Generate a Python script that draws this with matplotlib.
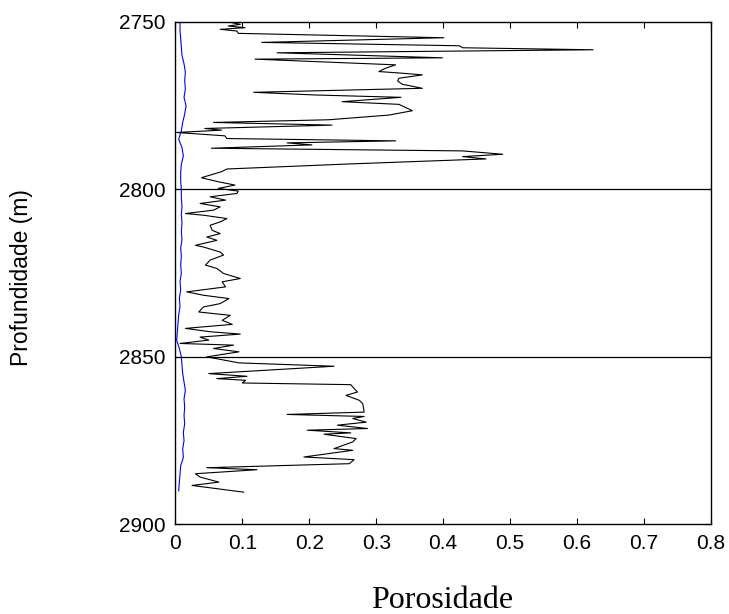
import matplotlib
matplotlib.use("Agg")
import matplotlib.pyplot as plt

# perfil de porosidade (linha preta)
prof = [2750.1, 2750.7, 2751.2, 2751.7, 2752.2, 2752.7, 2753.4, 2754.7, 2756.1, 2757.1,
        2757.7, 2758.3, 2759.2, 2760.7, 2761.1, 2762.8, 2763.8, 2764.8, 2765.3, 2765.8,
        2766.8, 2767.6, 2768.6, 2769.8, 2771.0, 2771.8, 2772.5, 2773.8, 2774.6, 2776.5,
        2777.8, 2779.2, 2780.0, 2780.8, 2781.8, 2782.3, 2783.0, 2784.0, 2784.8, 2785.5,
        2786.1, 2786.7, 2787.7, 2788.5, 2789.5, 2790.2, 2790.9, 2792.4, 2793.9, 2794.7,
        2796.5, 2796.9, 2797.7, 2798.7, 2799.7, 2800.5,
        2801.2, 2802.2, 2803.2, 2804.2, 2805.2, 2806.2, 2807.2, 2807.7, 2808.7, 2809.7,
        2810.7, 2812.2, 2813.2, 2814.2, 2815.2, 2816.7, 2817.2, 2818.7, 2819.6, 2821.1,
        2822.6, 2823.6, 2825.1, 2826.6, 2827.6, 2829.1, 2830.6, 2831.6, 2832.6, 2834.1,
        2835.1, 2836.6, 2837.6, 2839.1, 2840.3, 2841.5, 2842.5, 2843.2, 2844.1, 2845.0,
        2846.0, 2846.5, 2847.5, 2848.5, 2850.0,
        2851.8, 2852.8, 2855.0, 2855.8, 2856.5, 2857.0, 2857.8, 2858.3, 2859.0, 2860.5,
        2861.5, 2863.0, 2864.0, 2866.5, 2867.2, 2867.8, 2868.4, 2869.5, 2870.4, 2871.4,
        2871.9, 2872.7, 2873.1, 2874.4, 2875.4, 2877.4, 2877.9, 2879.9, 2880.7, 2881.9,
        2883.1, 2883.7, 2884.9, 2885.9, 2887.4, 2888.4, 2890.4]
poro = [0.082, 0.097, 0.079, 0.104, 0.067, 0.092, 0.094, 0.401, 0.129, 0.424,
        0.429, 0.624, 0.152, 0.399, 0.119, 0.329, 0.314, 0.304, 0.339, 0.369,
        0.334, 0.332, 0.339, 0.369, 0.117, 0.209, 0.337, 0.249, 0.334, 0.354,
        0.319, 0.229, 0.057, 0.234, 0.044, 0.069, 0.002, 0.074, 0.077, 0.329,
        0.167, 0.204, 0.054, 0.429, 0.489, 0.429, 0.464, 0.259, 0.077, 0.069,
        0.039, 0.047, 0.064, 0.089, 0.064, 0.094,
        0.092, 0.052, 0.075, 0.037, 0.067, 0.057, 0.015, 0.042, 0.077, 0.067,
        0.052, 0.055, 0.067, 0.047, 0.062, 0.030, 0.042, 0.067, 0.072, 0.052,
        0.045, 0.062, 0.072, 0.097, 0.070, 0.075, 0.017, 0.042, 0.080, 0.067,
        0.042, 0.035, 0.082, 0.070, 0.085, 0.015, 0.052, 0.097, 0.037, 0.050,
        0.007, 0.087, 0.057, 0.095, 0.047,
        0.095, 0.237, 0.050, 0.107, 0.062, 0.105, 0.100, 0.262, 0.265, 0.272,
        0.255, 0.275, 0.280, 0.282, 0.167, 0.282, 0.265, 0.285, 0.242, 0.287,
        0.197, 0.262, 0.222, 0.270, 0.265, 0.237, 0.265, 0.192, 0.267, 0.260,
        0.047, 0.122, 0.030, 0.037, 0.065, 0.025, 0.102]

# curva azul
prof_az = [2750, 2752.5, 2755, 2757.5, 2760, 2762.5, 2765, 2767.5, 2770, 2772.5,
           2775, 2777.5, 2780, 2782.5, 2785, 2787.5, 2790, 2792.5, 2795, 2797.5,
           2800, 2802.5, 2805, 2807.5, 2810, 2812.5, 2815, 2817.5, 2820, 2822.5,
           2825, 2827.5, 2830, 2832.5, 2835, 2837.5, 2840, 2842.5, 2845, 2847.5,
           2850, 2852.5, 2855, 2857.5, 2860, 2862.5, 2865, 2867.5, 2870, 2872.5,
           2875, 2877.5, 2880, 2882.5, 2885, 2887.5, 2890]
poro_az = [0.007, 0.007, 0.008, 0.009, 0.010, 0.013, 0.015, 0.014, 0.015, 0.013,
           0.016, 0.014, 0.011, 0.009, 0.005, 0.010, 0.012, 0.009, 0.008, 0.008,
           0.009, 0.009, 0.010, 0.009, 0.010, 0.009, 0.010, 0.008, 0.009, 0.008,
           0.009, 0.007, 0.008, 0.006, 0.007, 0.005, 0.004, 0.003, 0.002, 0.006,
           0.009, 0.010, 0.011, 0.013, 0.015, 0.013, 0.014, 0.013, 0.014, 0.012,
           0.013, 0.011, 0.012, 0.008, 0.007, 0.006, 0.005]

limites = [2800, 2850]

fig = plt.figure(figsize=(7.29, 6.14), dpi=100)
ax = fig.add_axes([0.2405, 0.1461, 0.7348, 0.8181])

ax.plot(poro_az, prof_az, color='blue', linewidth=0.8)
ax.plot(poro, prof, color='black', linewidth=0.8)
for l in limites:
    ax.axhline(l, color='black', linewidth=0.9)

ax.set_xlim(0, 0.8)
ax.set_ylim(2900, 2750)
ax.set_xticks([0, 0.1, 0.2, 0.3, 0.4, 0.5, 0.6, 0.7, 0.8])
ax.set_xticklabels(['0', '0.1', '0.2', '0.3', '0.4', '0.5', '0.6', '0.7', '0.8'])
ax.set_yticks([2750, 2800, 2850, 2900])
ax.tick_params(direction='in', top=True, right=True, length=4, width=0.8, pad=7,
               labelsize=15)
for lab in ax.get_xticklabels() + ax.get_yticklabels():
    lab.set_family('Liberation Sans')
for s in ax.spines.values():
    s.set_linewidth(1.0)

fig.text(0.030, 0.548, 'Profundidade (m)', rotation=90, ha='center', va='center',
         fontsize=16.5, family='Liberation Sans')
fig.text(0.607, 0.009, 'Porosidade', ha='center', va='baseline',
         fontsize=23, family='Liberation Serif')

fig.savefig('out.png', dpi=100)
